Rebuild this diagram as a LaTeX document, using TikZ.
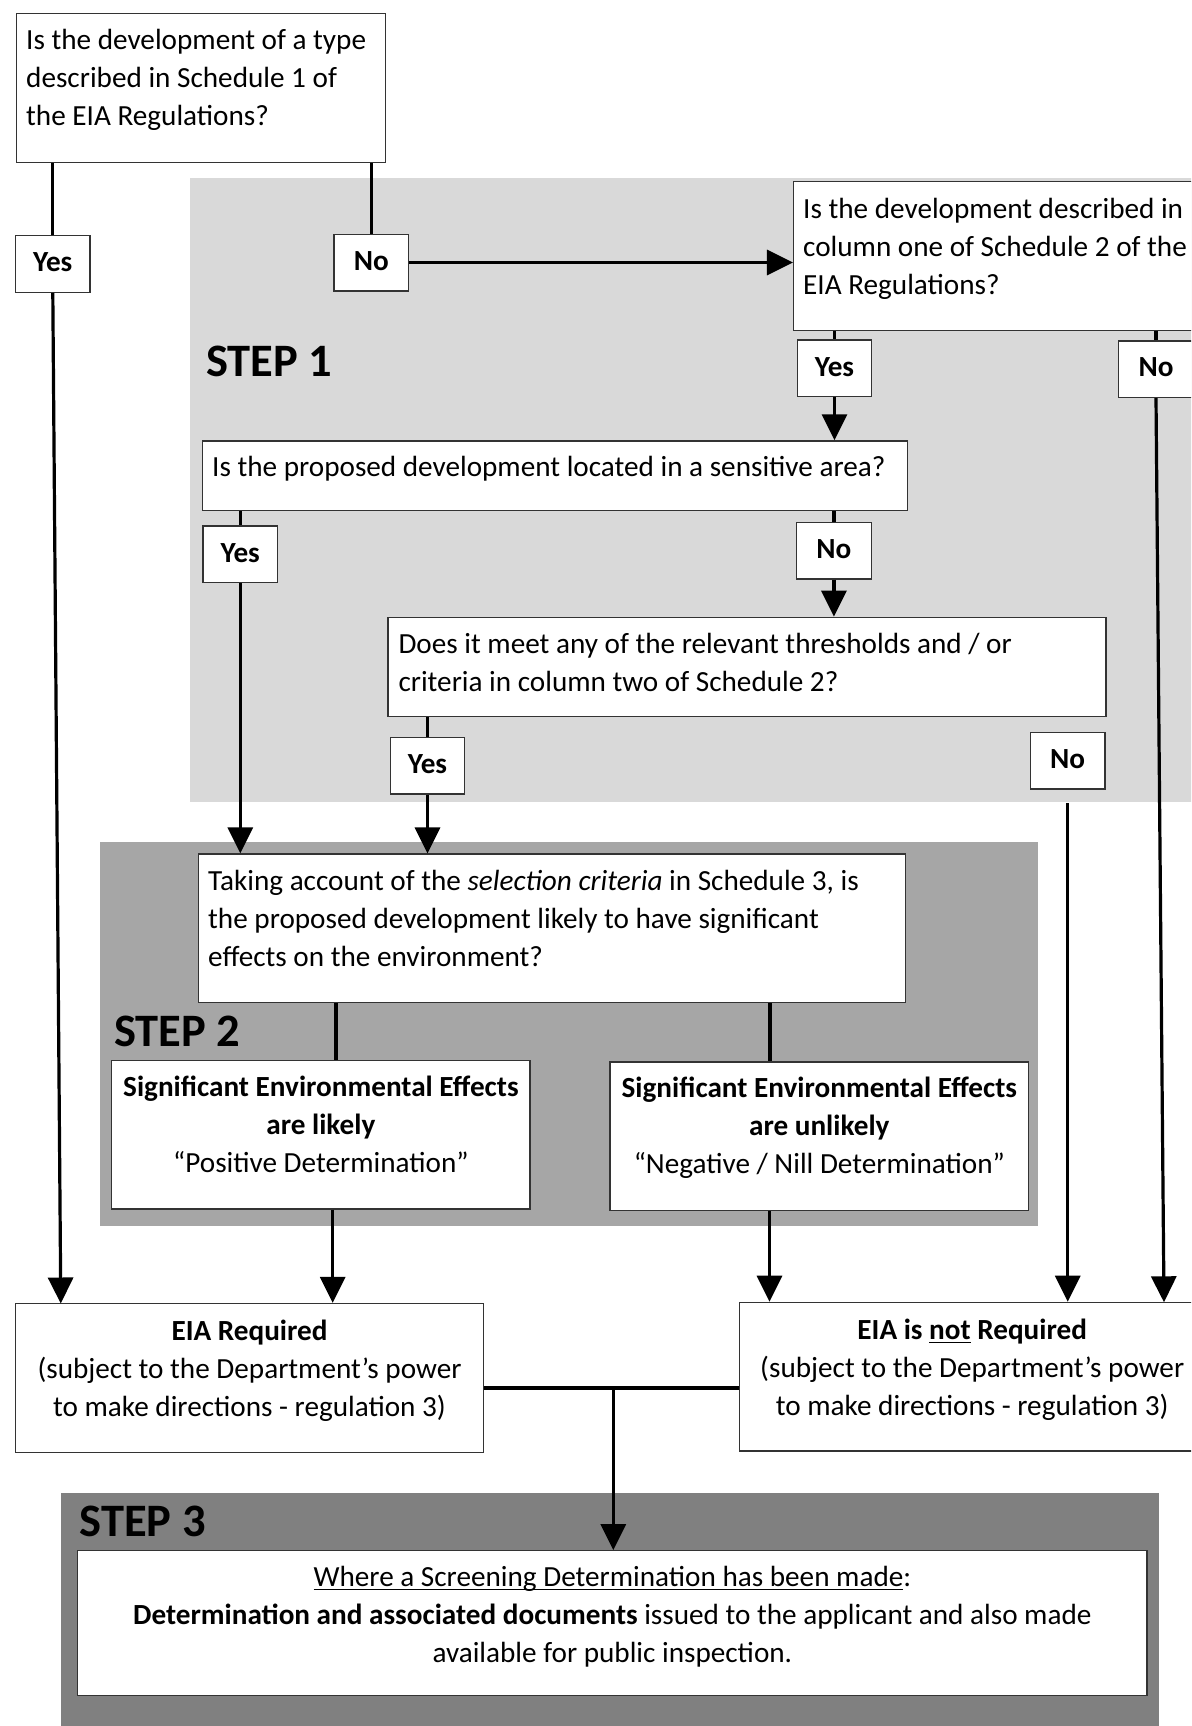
\documentclass[tikz,border=0pt]{standalone}
\usepackage{fontspec}
\setmainfont{Carlito}
\usetikzlibrary{arrows.meta}
\newcommand{\lineunder}[1]{\setbox0\hbox{#1}\rlap{\rule[-4pt]{\wd0}{1.4pt}}\box0\relax}

\begin{document}
\begin{tikzpicture}[x=1pt,y=-1pt,>={Triangle[length=26pt,width=25pt]},
  font=\fontsize{29.2pt}{38pt}\selectfont,
  qbox/.style={draw=black!80,line width=1.3pt,fill=white,inner sep=0pt},
  ans/.style={qbox,minimum width=74.5pt,minimum height=56.7pt,font=\fontsize{29.2pt}{38pt}\selectfont\bfseries,text height=18.5pt,text depth=3pt},
  qtext/.style={anchor=base west,align=left,inner sep=0pt},
  ctext/.style={anchor=base,align=center,inner sep=0pt},
  steplabel/.style={anchor=base west,inner sep=0pt,font=\fontsize{46.5pt}{50pt}\selectfont\bfseries},
  link/.style={line width=3.2pt}]
\useasboundingbox (0,0) rectangle (1191,1726);
\fill[white] (0,0) rectangle (1191,1726);
\clip (0,0) rectangle (1191,1726);
\fill[black!15] (190,178) rectangle (1200,801.7);
\fill[black!35] (100,841.7) rectangle (1037.6,1226);
\fill[black!50] (60.7,1492.5) rectangle (1159,1740);

% text nodes sit on the baseline of their last line
\node[qbox,minimum width=369pt,minimum height=149.4pt] (q1) at (201,88) {};
\node[qtext] (t1) at (26,126) {Is the development of a type\\described in Schedule 1 of\\the EIA Regulations?};
\node[ans] (yes1) at (52.8,264) {Yes};
\node[ans] (no1) at (371.3,262.5) {No};
\node[steplabel] (s1) at (206,376) {STEP 1};
\node[qbox,minimum width=426.5pt,minimum height=148.6pt] (q2) at (1006.8,256) {};
\node[qtext] (t2) at (803,294.3) {Is the development described in\\column one of Schedule 2 of the\\EIA Regulations?};
\node[ans] (yes2) at (834.5,368.3) {Yes};
\node[ans] (no2) at (1156,369.2) {No};
\node[qbox,minimum width=705pt,minimum height=69.7pt] (q3) at (555.1,475.8) {};
\node[qtext] (t3) at (212,476.7) {Is the proposed development located in a sensitive area?};
\node[ans] (yes3) at (240.3,554.3) {Yes};
\node[ans] (no3) at (833.9,550.7) {No};
\node[qbox,minimum width=718pt,minimum height=99.4pt] (q4) at (747,667) {};
\node[qtext] (t4) at (398.3,691.3) {Does it meet any of the relevant thresholds and / or\\criteria in column two of Schedule 2?};
\node[ans] (yes4) at (427.5,765.5) {Yes};
\node[ans] (no4) at (1067.7,760.5) {No};
\node[qbox,minimum width=707pt,minimum height=148.7pt] (q5) at (552,928.4) {};
\node[qtext] (t5) at (208,966) {Taking account of the \textit{selection criteria} in Schedule 3, is\\the proposed development likely to have significant\\effects on the environment?};
\node[steplabel] (s2) at (114,1046.7) {STEP 2};
\node[qbox,minimum width=418.3pt,minimum height=148.5pt] (q6) at (320.9,1134.8) {};
\node[ctext] (t6) at (320.9,1172) {\textbf{Significant Environmental Effects}\\\textbf{are likely}\\“Positive Determination”};
\node[qbox,minimum width=418.5pt,minimum height=148.7pt] (q7) at (819.3,1136.4) {};
\node[ctext] (t7) at (819.3,1173.5) {\textbf{Significant Environmental Effects}\\\textbf{are unlikely}\\“Negative / Nill Determination”};
\node[qbox,minimum width=467.6pt,minimum height=149.2pt] (q8) at (249.5,1378.1) {};
\node[ctext] (t8) at (249.5,1416) {\textbf{EIA Required}\\(subject to the Department’s power\\to make directions - regulation 3)};
\node[qbox,minimum width=465.7pt,minimum height=148.7pt] (q9) at (972.2,1376.7) {};
\node[ctext] (t9) at (972.2,1415) {\textbf{EIA is \lineunder{not} Required}\\(subject to the Department’s power\\to make directions - regulation 3)};
\node[steplabel] (s3) at (79.5,1536.7) {STEP 3};
\node[qbox,minimum width=1069.3pt,minimum height=144.8pt] (q10) at (612.4,1623.1) {};
\node[ctext] (t10) at (612.4,1662) {\lineunder{Where a Screening Determination has been made}:\\\textbf{Determination and associated documents} issued to the applicant and also made\\available for public inspection.};

\coordinate (e1) at (60.8,1303.5);
\coordinate (e2) at (1164,1302.3);
\coordinate (jn) at (613.3,1388);
\draw[link] (yes1.north |- q1.south) -- (yes1.north);
\draw[link] (no1.north |- q1.south) -- (no1.north);
\draw[link,->] (no1.east) -- (no1.east -| q2.west);
\draw[link] (yes2.north |- q2.south) -- (yes2.north);
\draw[link] (no2.north |- q2.south) -- (no2.north);
\draw[link,->] (yes2.south) -- (yes2.south |- q3.north);
\draw[link] (yes3.north |- q3.south) -- (yes3.north);
\draw[link] (no3.north |- q3.south) -- (no3.north);
\draw[link,->] (no3.south) -- (no3.south |- q4.north);
\draw[link] (yes4.north |- q4.south) -- (yes4.north);
\draw[link,->] (yes3.south) -- (yes3.south |- q5.north);
\draw[link,->] (yes4.south) -- (yes4.south |- q5.north);
\draw[link] (336,0 |- q5.south) -- (336,0 |- q6.north);
\draw[link] (770,0 |- q5.south) -- (770,0 |- q7.north);
\draw[link,->] (yes1.south) -- (e1);
\draw[link,->] (332.7,0 |- q6.south) -- (332.7,0 |- q8.north);
\draw[link,->] (769.5,0 |- q7.south) -- (769.5,0 |- q9.north);
\draw[link,->] ([yshift=-13.7pt]no4.south) -- (no4.south |- q9.north);
\draw[link,->] (no2.south) -- (e2);
\draw[link] (q8.east |- jn) -- (q9.west |- jn);
\draw[link,->] (jn) -- (jn |- q10.north);
\end{tikzpicture}
\end{document}
